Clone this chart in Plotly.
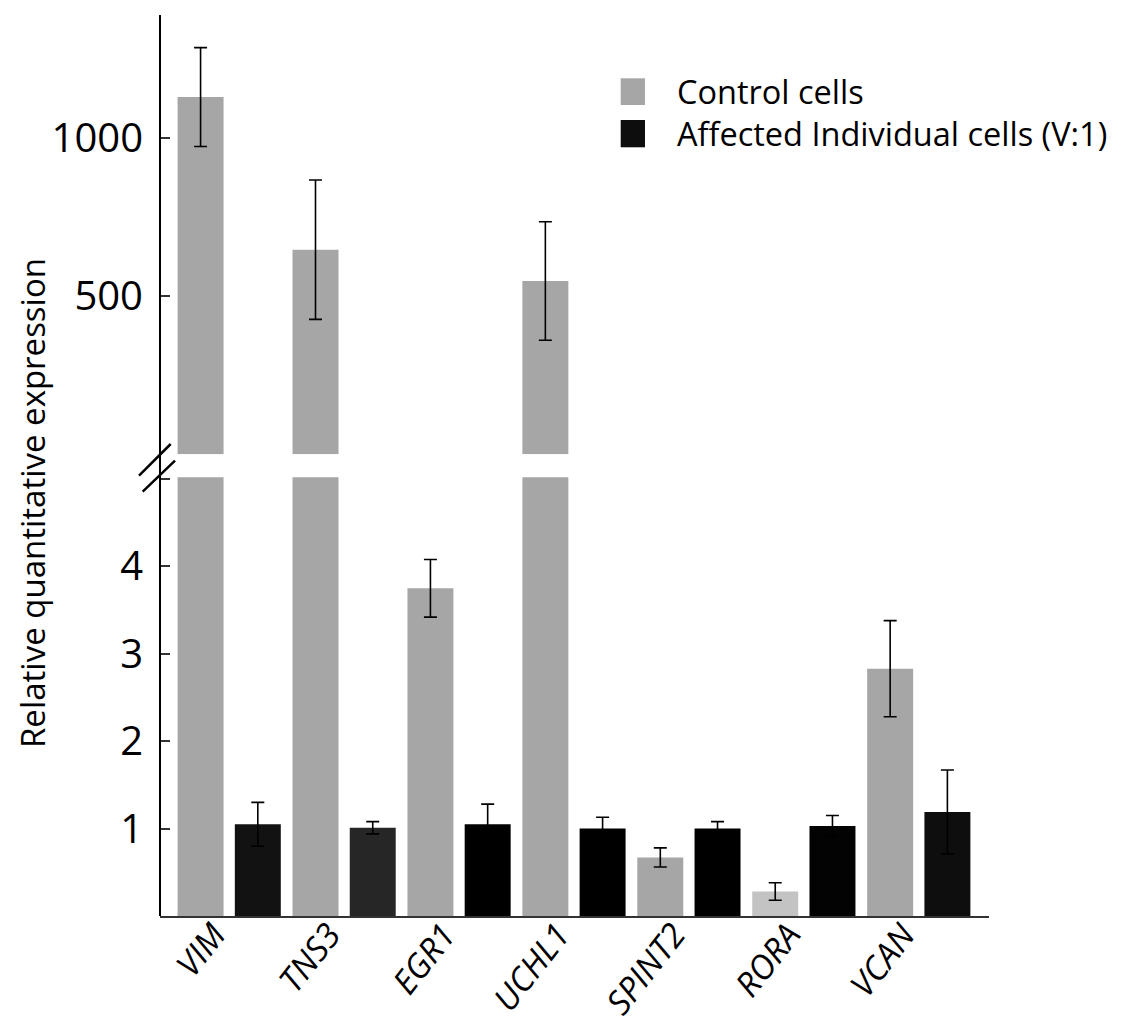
import plotly.graph_objects as go

genes = ["VIM", "TNS3", "EGR1", "UCHL1", "SPINT2", "RORA", "VCAN"]
control_vals = [1128, 646, 3.75, 547, 0.67, 0.28, 2.83]
control_err = [156, 220, 0.33, 187, 0.11, 0.10, 0.55]
affected_vals = [1.05, 1.01, 1.05, 1.00, 1.00, 1.03, 1.19]
affected_err = [0.25, 0.07, 0.23, 0.13, 0.08, 0.12, 0.48]
control_colors = ["#a6a6a6", "#a6a6a6", "#a6a6a6", "#a6a6a6", "#a6a6a6", "#c3c3c3", "#a6a6a6"]
affected_colors = ["#121212", "#262626", "#000000", "#000000", "#000000", "#030303", "#0e0e0e"]

low_max = 5.02
high_range = [0, 1387]
low_ticks = [1, 2, 3, 4, 5]
low_ticklabels = ["1", "2", "3", "4", ""]
high_ticks = [0, 500, 1000]
high_ticklabels = ["", "500", "1000"]
legend_names = ["Control cells", "Affected Individual cells (V:1)"]
legend_colors = ["#a6a6a6", "#0d0d0d"]

xpos = list(range(len(genes)))
W, H = 1121, 1028
ML, MR, MT, MB = 160, 132, 15, 112
PW, PH = W - ML - MR, H - MT - MB
XR = [-0.602, 6.611]


def px(x):
    return (x - ML) / PW


def py(y):
    return (H - MB - y) / PH


err_style = dict(type="data", thickness=1.6, width=6.5, color="#000000")
bw = 0.4
fig = go.Figure()
# lower panel
fig.add_trace(go.Bar(x=xpos, y=control_vals, width=bw, offset=-0.449, marker=dict(color=control_colors, line=dict(width=0)),
                     error_y=dict(array=control_err, **err_style), xaxis="x", yaxis="y", showlegend=False))
fig.add_trace(go.Bar(x=xpos, y=affected_vals, width=bw, offset=0.049, marker=dict(color=affected_colors, line=dict(width=0)),
                     error_y=dict(array=affected_err, **err_style), xaxis="x", yaxis="y", showlegend=False))
# upper panel (only values beyond the lower panel range)
hi_vals = [v if v > low_max else None for v in control_vals]
hi_err = [e if v > low_max else None for v, e in zip(control_vals, control_err)]
fig.add_trace(go.Bar(x=xpos, y=hi_vals, width=bw, offset=-0.449, marker=dict(color=control_colors, line=dict(width=0)),
                     error_y=dict(array=hi_err, **err_style), xaxis="x", yaxis="y2", showlegend=False))

font = "'Open Sans', Lato, sans-serif"
y_common = dict(showline=False, ticks="inside", ticklen=10, tickwidth=1.5, tickcolor="#333333",
                showgrid=False, zeroline=False, tickfont=dict(family=font, size=40, color="#000000"),
                ticklabelstandoff=16, fixedrange=True, automargin=False)

fig.update_layout(
    width=W, height=H,
    margin=dict(l=ML, r=MR, t=MT, b=MB, pad=0, autoexpand=False),
    paper_bgcolor="white", plot_bgcolor="white",
    barmode="overlay",
    xaxis=dict(range=XR, tickvals=xpos, showticklabels=False,
               ticks="", showline=True, linewidth=2, linecolor="#333333",
               showgrid=False, zeroline=False, anchor="y", automargin=False),
    yaxis=dict(domain=[0, py(477.3)], range=[0, low_max], tickvals=low_ticks, ticktext=low_ticklabels,
               anchor="x", **y_common),
    yaxis2=dict(domain=[py(454.3), 1], range=high_range, tickvals=high_ticks, ticktext=high_ticklabels,
                anchor="x", **y_common),
)

shapes = [
    dict(type="line", xref="paper", yref="paper", x0=0, x1=0, y0=0, y1=1, line=dict(color="#000000", width=2)),
    dict(type="line", xref="paper", yref="paper", x0=px(139), y0=py(475.7), x1=px(170.7), y1=py(444),
         line=dict(color="#000000", width=2.5)),
    dict(type="line", xref="paper", yref="paper", x0=px(142.7), y0=py(491.7), x1=px(175), y1=py(460.7),
         line=dict(color="#000000", width=2.5)),
]
annotations = []
leg_y = [(78.3, 105), (120, 147.3)]
for (y0, y1), name, col in zip(leg_y, legend_names, legend_colors):
    shapes.append(dict(type="rect", xref="paper", yref="paper", x0=px(620.7), x1=px(645), y0=py(y1), y1=py(y0),
                       fillcolor=col, line=dict(width=0)))
    annotations.append(dict(xref="paper", yref="paper", x=px(675), y=py((y0 + y1) / 2), text=name,
                            showarrow=False, xanchor="left", yanchor="middle",
                            font=dict(family=font, size=32.5, color="#000000")))
annotations.append(dict(xref="paper", yref="paper", x=px(32), y=py(503), text="Relative quantitative expression",
                        showarrow=False, textangle=-90, xanchor="center", yanchor="middle",
                        font=dict(family=font, size=33, color="#000000")))
# category labels (rotated, italic) positioned on the x data scale
for i, g in zip(xpos, genes):
    annotations.append(dict(xref="x", yref="paper", x=i, xshift=9, y=py(910), text=f"<i>{g}</i>",
                            showarrow=False, textangle=-52, xanchor="right", yanchor="top",
                            font=dict(family=font, size=33.5, color="#000000")))
fig.update_layout(shapes=shapes, annotations=annotations)

fig.write_html("out.html")
